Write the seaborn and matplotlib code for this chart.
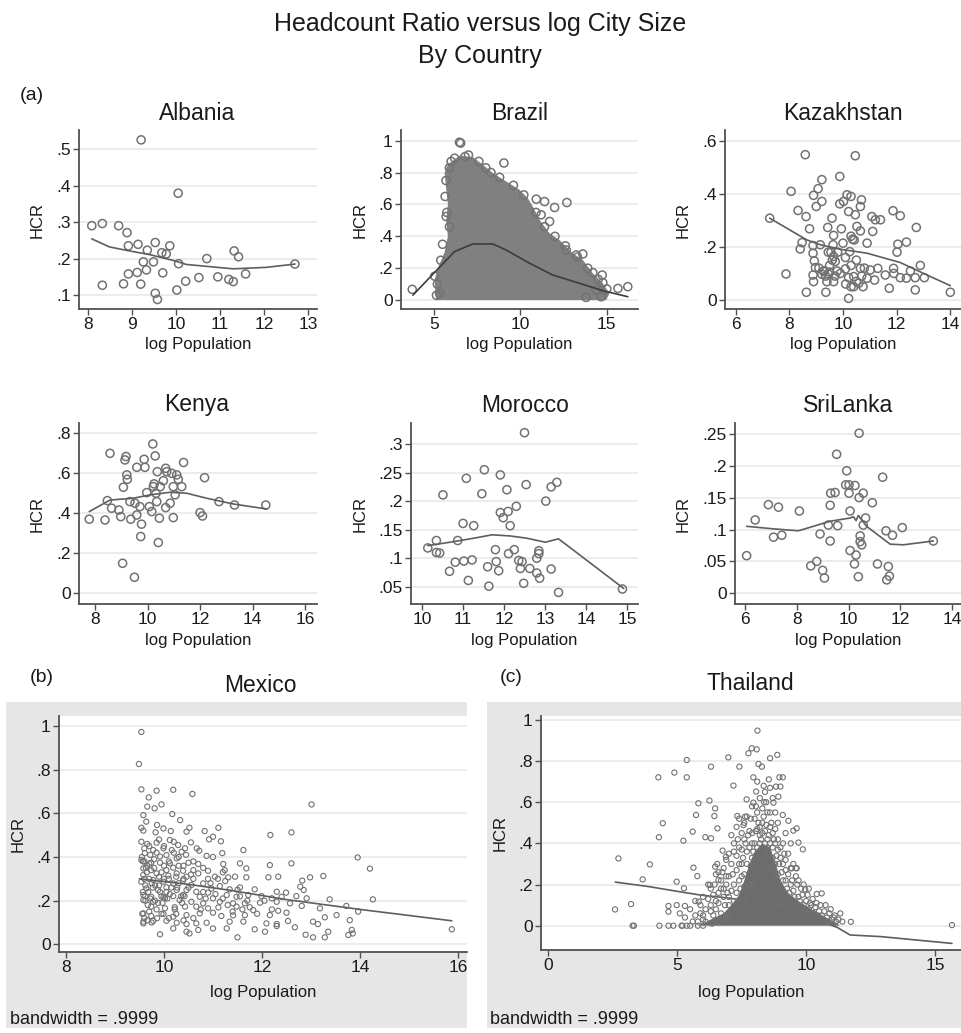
import pandas as pd
import seaborn as sns
import matplotlib.pyplot as plt
from matplotlib.patches import Rectangle
from matplotlib.ticker import FuncFormatter

W, H = 961, 1033

# values: (log population, HCR)
albania_pts = [(8.09, .290), (8.33, .296), (8.70, .290), (8.89, .271), (8.92, .235), (9.14, .239),
               (9.21, .525), (9.35, .223), (9.53, .244), (9.86, .235), (9.68, .216), (9.78, .213),
               (9.26, .191), (9.49, .191), (9.33, .169), (9.12, .162), (8.92, .158), (9.70, .161),
               (10.05, .379), (10.06, .186), (10.70, .200), (11.32, .221), (11.42, .205), (11.58, .158),
               (10.95, .150), (10.52, .148), (10.22, .138), (10.02, .114), (11.20, .143), (11.30, .137),
               (9.20, .130), (8.81, .131), (8.33, .127), (9.53, .105), (9.58, .088), (12.70, .185)]
albania_fit = [(8.09, .254), (8.49, .232), (8.90, .222), (9.40, .211), (10.0, .193), (10.23, .184),
               (11.30, .172), (12.05, .176), (12.70, .185)]

# Brazil: thousands of cities, the core is one solid blob -> outline + edge points
brazil_cloud = [(5.13, 0), (5.04, .126), (5.23, .20), (5.62, .30), (5.81, .40), (5.71, .50), (5.81, .60),
                (5.71, .70), (5.62, .80), (5.81, .85), (6.48, .906), (7.25, .897), (7.83, .849),
                (8.41, .797), (9.18, .744), (9.95, .692), (10.43, .639), (10.72, .587), (11.11, .503),
                (11.69, .419), (12.26, .377), (13.03, .293), (13.61, .252), (14.19, .168), (14.77, .105),
                (15.15, .042), (14.96, 0)]
brazil_pts = [(6.48, .99), (6.55, .985), (9.05, .86), (10.92, .633), (11.40, .618), (11.98, .581),
              (12.69, .612), (11.20, .535), (11.69, .493), (3.75, .067), (15.64, .073), (16.21, .084),
              (13.80, .017), (14.67, .021), (12.65, .314), (13.23, .283), (13.61, .289), (14.19, .172),
              (14.73, .157), (14.77, .109), (14.38, .063), (5.33, .042), (5.71, .524), (5.90, .46),
              (5.05, .15), (5.20, .10), (5.15, .03), (6.0, .87), (6.8, .90), (7.6, .87), (8.0, .83),
              (8.8, .77), (9.6, .72), (10.2, .66), (10.9, .55), (11.4, .46), (12.0, .40), (12.6, .34),
              (13.3, .27), (13.9, .20), (14.5, .13), (15.0, .07), (5.7, .75), (5.65, .65), (5.75, .55),
              (5.5, .35), (5.4, .25), (5.9, .83), (7.0, .91), (8.3, .80), (6.2, .89)]
brazil_fit = [(3.79, .031), (6.19, .304), (7.25, .352), (8.41, .352), (9.18, .314), (10.53, .231),
              (11.88, .157), (13.42, .105), (14.77, .059), (16.21, .021)]

kazakh_pts = [(7.26, .308), (7.87, .098), (8.06, .409), (8.32, .337), (8.59, .547), (8.62, .314),
              (8.47, .216), (8.40, .192), (8.75, .268), (8.63, .029), (8.90, .394), (9.07, .419),
              (9.21, .453), (9.21, .371), (9.00, .352), (8.88, .205), (8.88, .176), (8.93, .147),
              (8.97, .122), (8.88, .094), (8.90, .069), (9.21, .097), (9.15, .208), (9.36, .029),
              (9.28, .107), (9.46, .097), (9.43, .273), (9.59, .308), (9.65, .243), (9.63, .208),
              (9.55, .180), (9.65, .164), (9.71, .145), (9.78, .109), (9.65, .069), (9.88, .465),
              (9.88, .362), (10.02, .371), (10.15, .396), (10.30, .390), (9.94, .268), (10.0, .214),
              (10.09, .160), (10.09, .117), (10.21, .084), (10.21, .006), (10.40, .088), (10.46, .543),
              (10.21, .333), (10.46, .321), (10.65, .352), (10.69, .377), (10.52, .277), (10.36, .229),
              (10.25, .182), (10.42, .226), (10.65, .260), (10.65, .119), (10.59, .063), (10.40, .050),
              (10.75, .050), (10.90, .082), (10.90, .214), (11.08, .314), (11.11, .258), (11.21, .302),
              (11.40, .302), (11.02, .113), (11.30, .119), (11.58, .094), (11.87, .336), (12.14, .317),
              (12.02, .180), (12.05, .210), (12.37, .218), (11.89, .119), (12.14, .084), (11.90, .100),
              (12.37, .082), (12.52, .109), (12.74, .273), (12.70, .084), (12.70, .038), (12.89, .130),
              (13.04, .084), (11.73, .044), (14.01, .029), (11.18, .075), (9.40, .069), (9.50, .130),
              (9.35, .090), (10.80, .120), (10.30, .240), (9.10, .120), (9.30, .110), (9.50, .105),
              (9.70, .090), (9.90, .100), (10.10, .060), (10.30, .050), (10.50, .070), (10.70, .090),
              (9.80, .180), (10.30, .130), (10.50, .150), (9.60, .150), (9.45, .180)]
kazakh_fit = [(7.26, .308), (8.65, .226), (9.15, .208), (9.90, .191), (10.90, .176), (12.14, .141),
              (13.14, .094), (14.01, .054)]

kenya_pts = [(7.78, .368), (8.38, .364), (8.57, .698), (8.47, .461), (8.63, .423), (8.91, .414),
             (8.98, .381), (9.05, .147), (9.08, .528), (9.14, .665), (9.18, .682), (9.21, .590),
             (9.23, .568), (9.36, .368), (9.50, .077), (9.33, .456), (9.52, .448), (9.59, .628),
             (9.59, .389), (9.71, .431), (9.77, .343), (9.74, .281), (9.87, .668), (9.90, .628),
             (9.97, .501), (10.07, .431), (10.16, .406), (10.22, .531), (10.25, .545), (10.20, .745),
             (10.29, .685), (10.32, .498), (10.35, .456), (10.37, .606), (10.41, .251), (10.45, .373),
             (10.48, .531), (10.60, .561), (10.69, .623), (10.73, .606), (10.69, .426), (10.86, .448),
             (10.98, .376), (10.92, .598), (10.98, .531), (11.05, .490), (11.11, .590), (11.17, .568),
             (11.30, .531), (11.37, .652), (12.00, .401), (12.09, .384), (12.17, .576), (12.72, .456),
             (13.31, .439), (14.50, .439)]
kenya_fit = [(7.78, .406), (8.57, .464), (9.46, .473), (10.10, .490), (10.86, .503), (11.49, .498),
             (12.25, .473), (13.27, .444), (14.54, .419)]

morocco_pts = [(10.14, .118), (10.35, .131), (10.35, .110), (10.43, .109), (10.51, .211), (10.67, .077),
               (10.81, .093), (10.87, .131), (11.00, .161), (11.02, .095), (11.08, .240), (11.13, .061),
               (11.22, .097), (11.26, .157), (11.46, .213), (11.52, .255), (11.60, .085), (11.63, .051),
               (11.79, .115), (11.81, .094), (11.87, .078), (11.91, .246), (11.91, .180), (11.98, .171),
               (12.07, .220), (12.10, .182), (12.11, .108), (12.15, .157), (12.25, .115), (12.30, .191),
               (12.36, .096), (12.40, .082), (12.44, .094), (12.48, .056), (12.50, .320), (12.54, .229),
               (12.63, .082), (12.80, .100), (12.85, .113), (12.85, .108), (12.80, .074), (12.87, .065),
               (13.02, .200), (13.15, .225), (13.15, .081), (13.29, .233), (13.33, .040), (14.89, .046)]
morocco_fit = [(10.14, .122), (10.77, .129), (11.26, .135), (11.71, .141), (12.15, .139), (12.56, .135),
               (13.01, .128), (13.33, .134), (14.92, .047)]

srilanka_pts = [(6.06, .059), (6.39, .115), (6.90, .139), (7.10, .088), (7.29, .135), (7.42, .091),
                (8.10, .129), (8.54, .043), (8.77, .050), (8.90, .093), (9.00, .036), (9.07, .024),
                (9.22, .107), (9.29, .138), (9.31, .157), (9.29, .082), (9.48, .158), (9.54, .218),
                (9.58, .106), (9.93, .192), (9.89, .170), (10.02, .170), (10.02, .157), (10.06, .129),
                (10.06, .067), (10.23, .046), (10.25, .169), (10.29, .060), (10.38, .026), (10.41, .251),
                (10.41, .150), (10.45, .081), (10.45, .090), (10.51, .076), (10.57, .157), (10.57, .107),
                (10.66, .118), (10.92, .142), (11.12, .046), (11.32, .182), (11.45, .098), (11.54, .042),
                (11.58, .027), (11.48, .021), (11.70, .091), (12.08, .103), (13.28, .082)]
srilanka_fit = [(6.06, .105), (7.10, .101), (8.06, .098), (8.64, .105), (9.29, .113), (10.06, .118),
                (10.19, .120), (10.29, .114), (10.38, .122), (10.70, .105), (11.22, .089), (11.61, .077),
                (12.12, .076), (13.28, .082)]

mexico_pts = [(9.54, .973), (9.49, .826), (9.54, .710), (9.85, .704), (10.19, .708), (10.58, .689),
              (9.69, .673), (9.66, .631), (9.95, .641), (9.81, .623), (9.58, .592), (10.17, .597),
              (10.33, .569), (9.64, .562), (9.86, .547), (9.54, .534), (9.99, .531), (10.14, .519),
              (10.46, .516), (10.52, .534), (10.83, .519), (11.00, .493), (11.11, .534), (10.92, .481),
              (11.16, .472), (9.58, .521), (9.83, .513), (9.54, .470), (9.66, .460), (9.85, .466),
              (10.12, .478), (10.55, .467), (10.29, .455), (10.43, .440), (10.67, .440), (10.72, .429),
              (11.62, .432), (11.19, .418), (10.87, .405), (9.61, .418), (9.78, .432), (9.99, .440),
              (10.16, .432), (10.36, .424), (9.92, .402), (10.05, .409), (10.26, .394), (9.54, .386),
              (9.74, .374), (9.92, .374), (10.12, .371), (10.50, .374), (10.70, .368), (11.55, .371),
              (11.68, .348), (11.21, .368), (11.24, .340), (12.16, .363), (12.60, .371), (13.95, .398),
              (14.20, .347), (9.58, .348), (9.74, .340), (10.05, .340), (10.19, .351), (10.39, .337),
              (10.60, .340), (10.90, .337), (9.58, .318), (9.85, .325), (10.09, .315), (10.26, .325),
              (10.46, .310), (10.70, .325), (11.04, .310), (11.31, .307), (11.45, .310), (11.68, .307),
              (12.13, .307), (12.33, .310), (12.98, .307), (13.25, .313), (13.01, .641), (12.17, .501),
              (12.60, .513), (12.82, .292), (9.54, .287), (9.78, .295), (9.99, .287), (10.19, .279),
              (10.39, .292), (10.56, .272), (10.80, .279), (10.97, .256), (11.14, .267), (11.34, .252),
              (11.55, .261), (9.64, .256), (9.88, .249), (10.05, .261), (10.26, .249), (10.46, .249),
              (10.66, .241), (10.90, .237), (11.85, .252), (12.30, .241), (12.49, .237), (12.78, .264),
              (12.85, .249), (9.58, .226), (9.74, .218), (9.99, .215), (10.19, .221), (10.39, .226),
              (10.73, .218), (11.00, .211), (11.28, .226), (11.48, .218), (11.72, .226), (11.99, .221),
              (12.20, .211), (12.40, .218), (12.70, .221), (12.91, .211), (13.38, .206), (14.26, .206),
              (9.58, .203), (9.78, .195), (10.02, .211), (10.32, .203), (10.56, .195), (10.80, .188),
              (11.14, .195), (11.41, .188), (11.65, .188), (11.96, .191), (12.30, .195), (12.57, .188),
              (12.81, .176), (13.72, .176), (9.74, .173), (10.02, .165), (10.22, .160), (10.43, .173),
              (10.66, .173), (10.90, .165), (11.11, .169), (11.48, .173), (11.82, .157), (12.16, .134),
              (12.33, .154), (12.50, .145), (13.18, .165), (13.96, .150), (9.58, .142), (9.74, .130),
              (9.99, .139), (10.19, .127), (10.46, .134), (10.73, .142), (11.00, .145), (11.17, .130),
              (11.41, .133), (11.65, .134), (13.28, .124), (13.52, .134), (9.58, .104), (9.78, .108),
              (10.05, .108), (10.26, .099), (10.46, .093), (10.66, .096), (10.87, .099), (11.34, .104),
              (11.62, .104), (12.09, .096), (12.30, .093), (12.53, .107), (12.67, .078), (13.04, .104),
              (13.14, .093), (13.79, .111), (10.19, .073), (10.46, .058), (10.70, .066), (11.00, .073),
              (11.28, .073), (11.85, .069), (12.06, .058), (12.30, .084), (13.35, .058), (13.83, .066),
              (15.87, .069), (9.92, .046), (10.52, .050), (11.50, .032), (12.89, .044), (13.04, .032),
              (13.28, .032), (13.76, .043), (13.85, .050), (9.58, .096), (9.62, .27), (9.70, .30),
              (9.66, .36), (9.80, .39), (9.90, .31), (10.0, .36), (9.72, .41), (9.60, .44), (9.68, .24),
              (9.82, .27), (9.95, .22), (9.62, .20), (9.70, .15), (9.86, .12), (10.1, .30), (10.3, .28),
              (10.6, .30), (10.8, .24), (11.2, .21), (11.5, .25), (11.7, .20), (9.88, .19), (10.3, .40),
              (9.55, .40), (9.60, .38), (9.65, .33), (9.70, .37), (9.75, .28), (9.80, .35), (9.85, .42),
              (9.90, .27), (9.95, .33), (10.0, .30), (10.05, .24), (10.1, .38), (10.15, .26), (10.2, .42),
              (10.25, .31), (10.3, .36), (10.35, .22), (10.4, .30), (10.45, .41), (10.5, .26), (10.55, .32),
              (9.57, .24), (9.62, .22), (9.67, .18), (9.72, .21), (9.77, .26), (9.82, .20), (9.92, .24),
              (9.97, .19), (10.07, .21), (10.12, .23), (10.22, .17), (10.27, .26), (10.37, .19),
              (10.42, .22), (9.56, .14), (9.60, .12), (9.66, .11), (9.75, .10), (9.85, .16), (9.95, .14),
              (10.1, .12), (10.25, .14), (10.4, .11), (10.6, .12), (10.75, .16), (10.85, .21), (10.95, .28),
              (11.05, .23), (11.1, .30), (11.25, .29), (11.3, .18), (11.4, .15), (11.55, .22), (11.6, .16),
              (11.75, .17), (11.9, .14), (12.05, .20), (12.2, .16), (9.6, .30), (9.63, .35), (9.57, .38),
              (9.7, .45), (9.9, .48), (10.0, .45), (10.2, .47), (10.4, .36), (10.6, .38), (10.8, .35),
              (10.9, .30), (11.0, .40), (11.2, .33)]
mexico_fit = [(9.50, .300), (10.50, .275), (11.34, .248), (12.50, .205), (14.00, .160), (15.87, .108)]

# Thailand: solid core of overlapping circles -> outline, plus the visible circles around it
thai_core = [(5.8, 0), (6.3, .03), (6.8, .06), (7.1, .10), (7.4, .15), (7.6, .22), (7.8, .30), (8.0, .36),
             (8.3, .40), (8.6, .38), (8.8, .31), (9.0, .22), (9.3, .16), (9.7, .12), (10.2, .08),
             (10.7, .045), (11.2, .012), (11.3, 0)]
thai_pts = [(2.59, .079), (2.72, .327), (3.21, .105), (3.27, 0), (3.32, 0), (3.66, .225), (3.94, .298),
            (4.27, .721), (4.29, .430), (4.44, .498), (4.31, 0), (4.89, .744), (5.37, .805), (5.37, .721),
            (4.66, .096), (4.66, .068), (4.66, 0), (4.85, 0), (4.98, .214), (4.98, .100), (5.26, .182),
            (5.24, .413), (5.30, .096), (5.17, 0), (5.37, 0), (5.60, .457), (5.63, .282), (5.73, .538),
            (5.78, .241), (5.82, .595), (5.83, .117), (6.09, .430), (6.25, .608), (6.27, .198),
            (6.31, .773), (6.31, .425), (6.47, .570), (6.44, .533), (6.56, .473), (6.47, .287),
            (6.60, .222), (6.76, .365), (6.89, .335), (6.98, .818), (7.18, .681), (7.33, .533),
            (7.41, .773), (7.63, .530), (7.57, .489), (7.69, .614), (7.76, .838), (7.89, .862),
            (8.08, .857), (8.11, .948), (8.15, .786), (8.28, .773), (8.60, .814), (8.88, .830),
            (7.95, .721), (8.55, .711), (8.96, .721), (9.09, .721), (8.06, .652), (8.83, .676),
            (9.00, .676), (7.95, .598), (8.37, .600), (8.73, .598), (8.92, .627), (8.50, .551),
            (9.09, .538), (9.31, .510), (9.50, .462), (9.63, .473), (9.40, .400), (9.70, .404),
            (9.87, .371), (9.44, .279), (9.63, .279), (9.96, .177), (10.41, .154), (10.60, .157),
            (11.73, .019), (15.65, .003), (11.32, .060), (11.06, .040),
            (7.2, .40), (7.4, .38), (7.5, .45), (7.6, .42), (7.7, .36), (7.8, .46), (7.9, .40), (8.0, .52),
            (8.1, .47), (8.2, .44), (8.3, .50), (8.4, .46), (8.5, .42), (8.6, .48), (8.7, .45), (8.8, .40),
            (8.9, .37), (9.0, .33), (9.1, .30), (9.2, .27), (8.5, .38), (8.7, .33), (8.2, .40), (7.9, .33),
            (7.5, .30), (7.3, .27), (7.1, .30), (7.0, .24), (6.9, .20), (6.8, .18), (6.6, .16), (6.5, .12),
            (6.3, .10), (6.1, .08), (5.9, .06), (5.7, .05), (5.5, .08), (5.3, .04), (5.8, .02), (6.0, .03),
            (6.4, .05), (7.0, .14), (7.2, .20), (9.2, .22), (9.4, .20), (9.5, .17), (9.6, .24), (9.7, .14),
            (9.8, .18), (9.9, .10), (10.0, .12), (10.1, .08), (10.2, .10), (10.3, .06), (10.5, .07),
            (10.6, .05), (10.8, .04), (11.0, .03), (10.9, .06), (9.3, .35), (9.1, .40), (9.2, .45),
            (8.9, .50), (8.8, .55), (8.6, .55), (8.1, .55), (7.9, .58), (7.0, .35), (6.8, .28), (6.6, .26),
            (6.7, .22), (7.6, .25), (7.4, .22), (9.4, .28), (9.6, .28), (9.5, .10), (9.0, .10), (8.4, .28),
            (8.0, .20), (7.7, .12), (7.0, .05), (6.6, .02), (7.4, .52), (7.7, .53), (8.2, .62), (8.4, .65),
            (8.7, .62), (8.6, .67), (6.2, .20), (6.5, .25), (6.9, .32), (7.1, .44), (7.3, .48), (5.7, .12),
            (6.0, .14), (6.3, .18),
            (7.0, .10), (7.1, .17), (7.2, .12), (7.3, .16), (7.3, .34), (7.4, .30), (7.45, .18), (7.5, .24),
            (7.5, .37), (7.35, .42), (7.2, .36), (7.15, .25), (7.55, .33), (7.6, .50), (7.65, .40),
            (7.7, .30), (7.75, .44), (7.8, .38), (7.85, .52), (7.9, .45), (7.95, .36), (7.6, .19),
            (7.8, .20), (7.85, .29), (8.0, .40), (8.05, .46), (8.1, .38), (8.15, .50), (8.2, .48),
            (8.25, .42), (8.3, .45), (8.35, .53), (8.4, .40), (8.45, .49), (8.05, .58), (8.3, .57),
            (8.45, .60), (8.1, .70), (8.35, .68), (8.55, .44), (8.6, .40), (8.65, .50), (8.7, .38),
            (8.75, .42), (8.8, .47), (8.85, .34), (8.9, .42), (8.95, .30), (8.55, .35), (8.8, .30),
            (8.65, .28), (8.75, .24), (8.9, .25), (9.0, .38), (9.05, .26), (9.1, .22), (9.15, .35),
            (9.2, .32), (9.25, .18), (9.3, .25), (9.35, .16), (9.45, .22), (9.5, .30), (9.55, .14),
            (9.65, .20), (9.7, .22), (9.75, .12), (9.85, .15), (9.9, .20), (9.95, .08), (10.05, .15),
            (10.1, .18), (10.15, .11), (10.25, .13), (10.35, .09), (10.4, .11), (10.45, .05), (10.55, .10),
            (10.7, .07), (10.75, .10), (10.85, .02), (10.95, .08), (11.1, .05), (11.15, .02), (11.25, .03),
            (11.4, .02), (5.6, .02), (5.9, .10), (6.0, .05), (6.2, .13), (6.3, .07), (6.4, .15), (6.45, .20),
            (6.5, .08), (6.55, .30), (6.6, .11), (6.7, .18), (6.75, .26), (6.8, .14), (6.85, .10),
            (6.9, .24), (6.95, .16), (6.7, .06), (6.9, .04), (6.1, .02), (6.35, .01), (5.1, .06), (5.2, 0),
            (5.5, 0), (5.8, 0), (6.0, 0)]
thai_fit = [(2.6, .212), (3.9, .190), (5.1, .165), (5.9, .149), (7.1, .133), (8.5, .100), (10.0, .045),
            (11.2, -.008), (11.7, -.045), (12.9, -.053), (15.65, -.086)]

PT = "#727272"
LN = "#5e5e5e"
GRID = "#e9e9e9"
TXT = "#1a1a1a"
FONT = ["Liberation Sans", "DejaVu Sans"]

sns.set_theme(style="white")
plt.rcParams["font.family"] = FONT


def stata(v, _):
    s = f"{v:g}"
    return s[1:] if s.startswith("0.") else s


def px_axes(fig, x0, y0, x1, y1):
    return fig.add_axes([x0 / W, 1 - y1 / H, (x1 - x0) / W, (y1 - y0) / H])


def panel(ax, pts, fit, xlim, ylim, xt, yt, s=34, lw=1.1, cloud=None, cloud_col="#808080",
          line_col=LN, line_z=4, ylab_off=42, xlab_off=36):
    ax.set_facecolor("white")
    if cloud is not None:
        cx, cy = zip(*cloud)
        ax.fill(cx, cy, color=cloud_col, lw=0, zorder=2)
    d = pd.DataFrame(pts, columns=["logpop", "hcr"])
    sns.scatterplot(data=d, x="logpop", y="hcr", ax=ax, s=s, fc="none", ec=PT,
                    linewidth=lw, zorder=3, legend=False)
    f = pd.DataFrame(fit, columns=["logpop", "hcr"])
    sns.lineplot(data=f, x="logpop", y="hcr", ax=ax, sort=False, estimator=None,
                 color=line_col, lw=1.2, zorder=line_z)
    ax.set_xlim(xlim)
    ax.set_ylim(ylim)
    ax.set_xticks(xt)
    ax.set_yticks(yt)
    ax.xaxis.set_major_formatter(FuncFormatter(stata))
    ax.yaxis.set_major_formatter(FuncFormatter(stata))
    for y in yt:
        ax.axhline(y, color=GRID, lw=1.2, zorder=0)
    for side in ["top", "right"]:
        ax.spines[side].set_visible(False)
    for side in ["left", "bottom"]:
        ax.spines[side].set_color("#505050")
        ax.spines[side].set_linewidth(1.3)
    ax.tick_params(axis="both", direction="out", length=4, width=1, color="#505050",
                   labelsize=12.5, labelcolor=TXT, pad=2, left=True, bottom=True)
    ax.set_xlabel("log Population", fontsize=12, color=TXT)
    ax.set_ylabel("HCR", fontsize=12, color=TXT)
    bb = ax.get_position()
    wpx, hpx = bb.width * W, bb.height * H
    ax.yaxis.set_label_coords(-ylab_off / wpx, 0.5)
    ax.yaxis.label.set_va("center")
    ax.xaxis.set_label_coords(0.5, -xlab_off / hpx)
    ax.xaxis.label.set_va("center")


fig = plt.figure(figsize=(W / 100, H / 100), dpi=100)
fig.patch.set_facecolor("white")

fig.text(480 / W, 1 - 24 / H, "Headcount Ratio versus log City Size", ha="center", va="center",
         fontsize=18, color=TXT)
fig.text(480 / W, 1 - 56 / H, "By Country", ha="center", va="center", fontsize=18, color=TXT)
fig.text(20 / W, 1 - 95 / H, "(a)", ha="left", va="center", fontsize=14, color=TXT)

# grey graph regions of (b) and (c)
fig.add_artist(Rectangle((6 / W, 1 - 1028 / H), 461 / W, 326 / H, transform=fig.transFigure,
                         facecolor="#e6e6e6", edgecolor="none", zorder=-1))
fig.add_artist(Rectangle((487 / W, 1 - 1028 / H), 474 / W, 326 / H, transform=fig.transFigure,
                         facecolor="#e6e6e6", edgecolor="none", zorder=-1))

specs = [
    ("Albania", (79, 130, 317, 309), 197, 113, albania_pts, albania_fit, (7.8, 13.2), (.062, .552),
     range(8, 14), [.1, .2, .3, .4, .5], None, 42),
    ("Brazil", (401, 130, 638, 309), 520, 113, brazil_pts, brazil_fit, (3.1, 16.8), (-.056, 1.067),
     [5, 10, 15], [0, .2, .4, .6, .8, 1], brazil_cloud, 41),
    ("Kazakhstan", (725, 130, 961, 309), 843, 113, kazakh_pts, kazakh_fit, (5.59, 14.41), (-.034, .64),
     [6, 8, 10, 12, 14], [0, .2, .4, .6], None, 42),
    ("Kenya", (79, 423, 317, 604), 197, 405, kenya_pts, kenya_fit, (7.39, 16.45), (-.057, .85),
     [8, 10, 12, 14, 16], [0, .2, .4, .6, .8], None, 42),
    ("Morocco", (411, 423, 638, 604), 525, 405, morocco_pts, morocco_fit, (9.73, 15.27), (.0197, .337),
     [10, 11, 12, 13, 14, 15], [.05, .1, .15, .2, .25, .3], None, 51),
    ("SriLanka", (735, 423, 961, 604), 848, 405, srilanka_pts, srilanka_fit, (5.61, 14.35), (-.0168, .267),
     [6, 8, 10, 12, 14], [0, .05, .1, .15, .2, .25], None, 52),
]
for name, rect, tx, ty, pts, fit, xl, yl, xt, yt, cloud, yo in specs:
    ax = px_axes(fig, *rect)
    lc = "#3c3c3c" if cloud is not None else LN
    panel(ax, pts, fit, xl, yl, list(xt), yt, cloud=cloud, line_col=lc, ylab_off=yo)
    fig.text(tx / W, 1 - ty / H, name, ha="center", va="center", fontsize=16.5, color=TXT)

# (b) Mexico
ax = px_axes(fig, 59, 716, 467, 952)
panel(ax, mexico_pts, mexico_fit, (7.86, 16.18), (-.035, 1.046), [8, 10, 12, 14, 16],
      [0, .2, .4, .6, .8, 1], s=14, lw=0.8, ylab_off=41, xlab_off=41)
fig.text(30 / W, 1 - 678 / H, "(b)", ha="left", va="center", fontsize=14, color=TXT)
fig.text(260 / W, 1 - 685 / H, "Mexico", ha="center", va="center", fontsize=16.5, color=TXT)
fig.text(10 / W, 1 - 1020 / H, "bandwidth = .9999", ha="left", va="center", fontsize=13, color=TXT)

# (c) Thailand - the smoother disappears under the point cloud
ax = px_axes(fig, 541, 716, 961, 950)
panel(ax, thai_pts, thai_fit, (-0.28, 16.0), (-.118, 1.019), [0, 5, 10, 15],
      [0, .2, .4, .6, .8, 1], s=14, lw=0.8, cloud=thai_core, cloud_col="#6c6c6c",
      line_z=1, ylab_off=41, xlab_off=43)
fig.text(500 / W, 1 - 678 / H, "(c)", ha="left", va="center", fontsize=14, color=TXT)
fig.text(750 / W, 1 - 683 / H, "Thailand", ha="center", va="center", fontsize=16.5, color=TXT)
fig.text(490 / W, 1 - 1020 / H, "bandwidth = .9999", ha="left", va="center", fontsize=13, color=TXT)

fig.savefig("out.png", dpi=100)
